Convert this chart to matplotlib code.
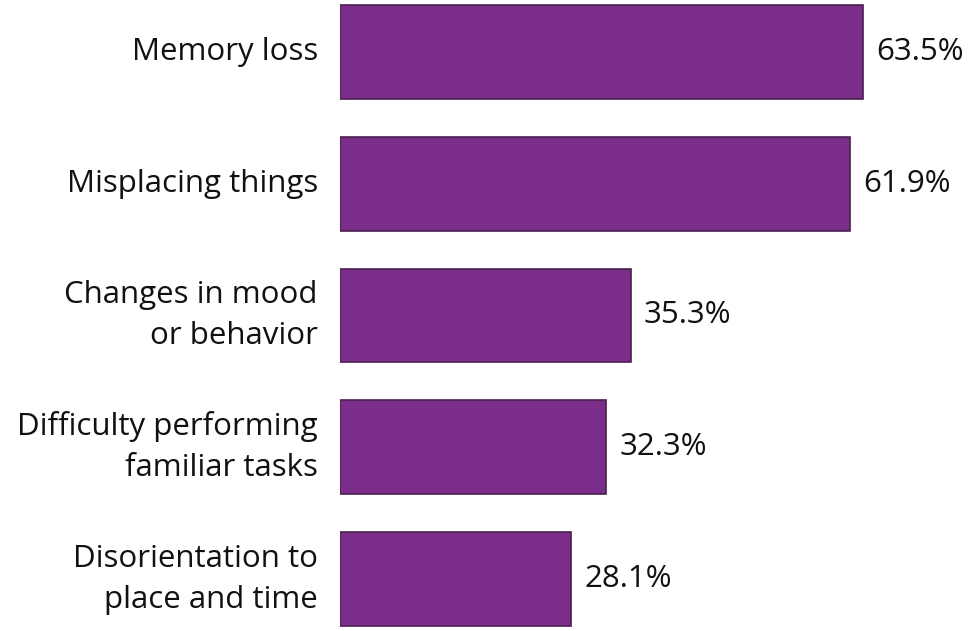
import matplotlib.pyplot as plt

plt.rcParams['font.family'] = ['Open Sans', 'DejaVu Sans']

# Data
labels = ["Memory loss", "Misplacing things", "Changes in mood\nor behavior",
          "Difficulty performing\nfamiliar tasks", "Disorientation to\nplace and time"]
values = [63.5, 61.9, 35.3, 32.3, 28.1]

fig = plt.figure(figsize=(9.78, 6.31), dpi=100)
ax = fig.add_axes([340 / 978, 0, 638 / 978, 1])

y = list(range(len(values)))
ax.barh(y, values, height=0.712, color="#7B2D8A", edgecolor="#4A2050", linewidth=1.2)

ax.set_xlim(0, 638 / 8.236)
ax.set_ylim(4.394, -0.394)

for yi, v, lab in zip(y, values, labels):
    ax.text(v + 1.6, yi, f"{v}%", va="center", ha="left", fontsize=22.5, color="#111111")
    ax.text(-2.7, yi, lab, va="center", ha="right", fontsize=22.5, color="#111111",
            linespacing=1.48)

ax.axis("off")

fig.savefig("out.png", dpi=100)
